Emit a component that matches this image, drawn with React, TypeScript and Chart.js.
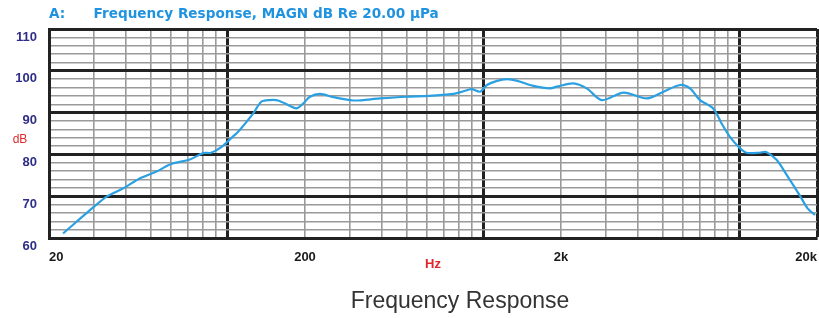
import React, { useEffect, useRef } from "react";
import { Chart, registerables } from "chart.js";

Chart.register(...registerables);

// Frequency (Hz) and response (dB)
const freqs = [
  22.7, 30, 33.6, 39, 45.4, 52.6, 60, 71, 80, 86,
  94.5, 103, 111, 125.6, 135, 145.6, 157, 174.6, 185, 197,
  209, 229, 258, 309, 392, 498, 612, 761, 822, 896,
  966, 1027, 1125, 1232, 1350, 1560, 1812, 1925, 2232, 2520,
  2888, 3512, 4332, 5028, 5840, 6380, 6980, 7860, 8480, 9140,
  10000, 10600, 11930, 12650, 13900, 15220, 17240, 18370, 19640,
];
const dbValues = [
  61.1, 67.5, 69.9, 71.9, 74.3, 75.9, 77.7, 78.8, 80.3, 80.4,
  81.8, 83.9, 85.8, 89.8, 92.6, 93.0, 92.9, 91.6, 91.0, 92.2,
  93.8, 94.5, 93.7, 92.9, 93.4, 93.8, 94.0, 94.5, 95.0, 95.6,
  95.0, 96.6, 97.6, 98.0, 97.6, 96.4, 95.8, 96.2, 97.0, 95.8,
  93.0, 94.8, 93.4, 95.0, 96.6, 95.8, 93.0, 91.0, 87.4, 84.2,
  81.5, 80.4, 80.4, 80.6, 78.7, 75.1, 69.9, 67.1, 65.5,
];

// Axis grid and labels
const xGrid = [
  20, 30, 40, 50, 60, 70, 80, 90,
  100, 200, 300, 400, 500, 600, 700, 800, 900,
  1000, 2000, 3000, 4000, 5000, 6000, 7000, 8000, 9000,
  10000, 20000,
];
const xMajor = [100, 1000, 10000, 20000];
const xLabels: Record<number, string> = { 20: "20", 200: "200", 2000: "2k", 20000: "20k" };
const yMajorStep = 10;
const yMinorStep = 2;
const yMin = 60;
const yMax = 110;

const titleText = "A:      Frequency Response, MAGN dB Re 20.00 \u00b5Pa";
const captionText = "Frequency Response";
const xUnit = "Hz";
const yUnit = "dB";

const SANS = "'Liberation Sans', Arial, sans-serif";

const THICK = "#222222";
const THIN = "#9a9a9a";

export default function App() {
  const ref = useRef<HTMLCanvasElement | null>(null);

  useEffect(() => {
    if (!ref.current) return;

    const textPlugin = {
      id: "extraText",
      afterDraw(chart: any) {
        const y = chart.scales.y;
        const area = chart.chartArea;
        const c = chart.ctx;
        c.save();
        c.font = `12px ${SANS}`;
        c.fillStyle = "#e0262a";
        c.textAlign = "center";
        c.textBaseline = "middle";
        c.fillText(yUnit, 20, y.getPixelForValue(83.5));
        c.font = `23px ${SANS}`;
        c.fillStyle = "#333333";
        c.fillText(captionText, (area.left + area.right) / 2 + 27, chart.height - 16);
        c.restore();
      },
    };

    const chart = new Chart(ref.current, {
      type: "line",
      data: {
        datasets: [
          {
            data: freqs.map((f, i) => ({ x: f, y: dbValues[i] })),
            borderColor: "#2aa0e2",
            borderWidth: 2.2,
            pointRadius: 0,
            tension: 0.3,
            fill: false,
          },
        ],
      },
      plugins: [textPlugin],
      options: {
        animation: false,
        responsive: false,
        layout: { padding: { left: 0, right: 2, top: 0, bottom: 40 } },
        plugins: {
          legend: { display: false },
          tooltip: { enabled: false },
          title: {
            display: true,
            text: titleText,
            align: "start",
            fullSize: false,
            color: "#1f93e0",
            font: { size: 13.6, weight: "bold", family: "'DejaVu Sans', sans-serif" },
            padding: { top: 6.5, bottom: 6.2 },
          },
        },
        scales: {
          x: {
            type: "logarithmic",
            min: 20,
            max: 20000,
            afterBuildTicks: (scale: any) => {
              scale.ticks = xGrid.map((v) => ({ value: v }));
            },
            afterFit: (scale: any) => {
              scale.height = 40;
              scale.paddingLeft = 0;
              scale.paddingRight = 0;
            },
            ticks: {
              autoSkip: false,
              maxRotation: 0,
              align: "inner",
              padding: 12,
              color: "#1a1a1a",
              font: { size: 13, weight: "bold", family: SANS },
              callback: (v: any) => xLabels[Number(v)] ?? "",
            },
            grid: {
              drawTicks: false,
              tickLength: 0,
              color: (ctx: any) => (xMajor.includes(ctx.tick?.value) ? THICK : THIN),
              lineWidth: (ctx: any) => (xMajor.includes(ctx.tick?.value) ? 3 : 1.6),
            },
            border: { display: true, color: THICK, width: 3 },
            title: {
              display: true,
              text: xUnit,
              color: "#e0262a",
              font: { size: 13, weight: "bold", family: SANS },
              padding: { top: 0, bottom: 6 },
            },
          },
          y: {
            type: "linear",
            min: yMin,
            max: yMax,
            afterFit: (scale: any) => {
              scale.width = 49;
              scale.paddingTop = 0;
              scale.paddingBottom = 0;
            },
            ticks: {
              stepSize: yMinorStep,
              autoSkip: false,
              padding: 12,
              labelOffset: 8,
              color: "#2e2e86",
              font: { size: 13, weight: "bold", family: SANS },
              callback: (v: any) => (Number(v) % yMajorStep === 0 ? String(v) : ""),
            },
            grid: {
              drawTicks: false,
              tickLength: 0,
              color: (ctx: any) => (ctx.tick?.value % yMajorStep === 0 ? THICK : THIN),
              lineWidth: (ctx: any) => (ctx.tick?.value % yMajorStep === 0 ? 3 : 1.4),
            },
            border: { display: true, color: THICK, width: 3 },
          },
        },
      } as any,
    });

    return () => chart.destroy();
  }, []);

  return (
    <div style={{ position: "absolute", left: 0, top: 0, width: 819, height: 318, background: "#fff" }}>
      <canvas ref={ref} width={819} height={318} />
    </div>
  );
}
